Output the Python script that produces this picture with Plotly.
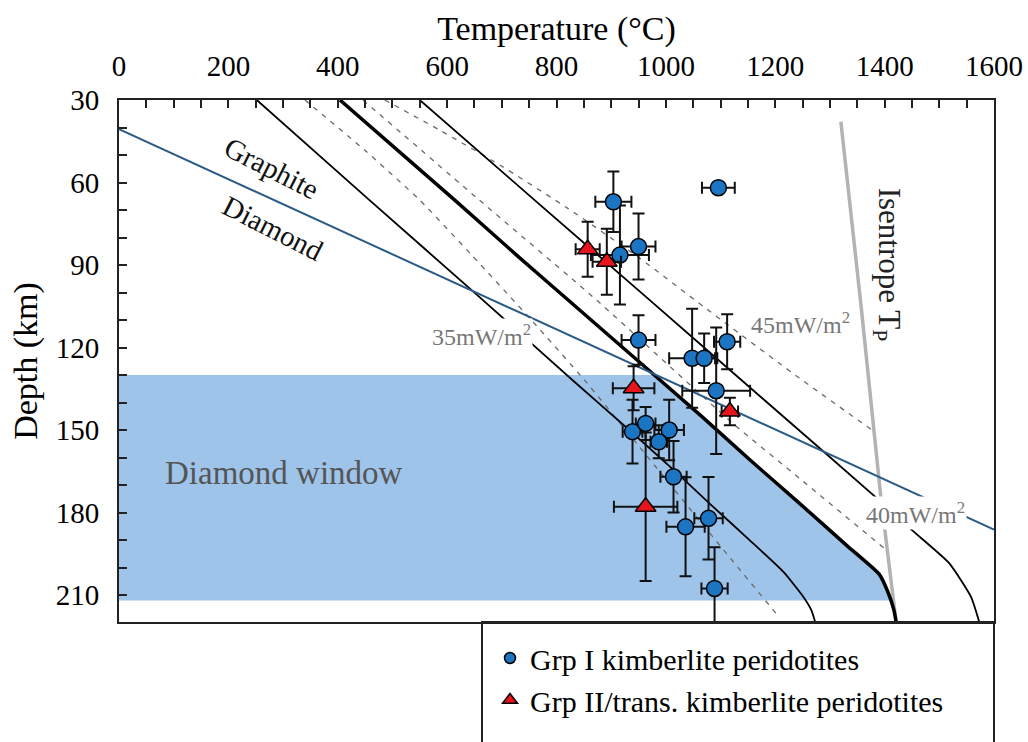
import numpy as np
import plotly.graph_objects as go

# ---------------- data ----------------
# Grp I kimberlite peridotites (circles)
g1_T = [1096, 904, 950, 916, 950, 1048, 1070, 1112, 1092, 939, 963, 1006, 987, 1014, 1036, 1078, 1089]
g1_D = [61.9, 67.0, 83.3, 86.4, 117.3, 123.9, 123.9, 117.9, 135.7, 150.6, 147.6, 150.0, 154.3, 167.0, 185.2, 182.1, 207.6]
g1_Terr = [30, 33, 31, 53, 31, 42, 24, 24, 62, 18, 18, 27, 15, 24, 35, 26, 24]
g1_Derr = [0, 11, 12, 18, 9, 18, 9, 10, 23, 11.6, 6, 11, 6, 13, 18, 15, 15]

# Grp II / transitional kimberlite peridotites (triangles)
g2_T = [857, 892, 1117, 941, 963]
g2_D = [84.3, 88.8, 143.3, 134.8, 177.9]
g2_Terr = [22, 26, 15, 38, 58]
g2_Derr = [10, 12, 5, 8, 27]

# geotherms (temperature degC, depth km)
geoA_T = [252, 458, 665, 829, 933, 1014, 1083, 1153, 1215, 1249, 1266, 1273]
geoA_D = [30, 66.4, 102.7, 131.8, 150, 164.5, 177.3, 190, 201.6, 210, 215.5, 219.8]

geoB_T = [404, 614, 727, 857, 1067, 1154, 1248, 1332, 1390, 1406, 1417, 1421]
geoB_D = [30, 66.4, 86.4, 108.9, 145.3, 160.9, 177.3, 192.2, 202.4, 208.9, 215.5, 219.8]

geoC_T = [550, 760, 970, 1180, 1394, 1450, 1518, 1558, 1573]
geoC_D = [30, 66.4, 102.7, 139.1, 176.2, 186.4, 198.4, 210.7, 219.8]

dash1_T = [340, 449, 550, 645, 754, 851, 952, 1098, 1207]
dash1_D = [30, 48.2, 66.4, 86.4, 110, 131.8, 156.2, 191.8, 218]

dash2_T = [446, 659, 873, 1122, 1244, 1403]
dash2_D = [30, 66.4, 102.7, 147.5, 167.5, 193.6]

dash3_T = [486, 586, 696, 820, 952, 1070, 1244, 1377]
dash3_D = [30, 40.9, 53.6, 69.3, 87.5, 105.3, 131.1, 150]

isen_T = [1320, 1357, 1393, 1421]
isen_D = [37.9, 105, 174.3, 219.8]

gd_T = [0, 1600]          # graphite-diamond boundary
gd_D = [40.6, 186.2]

window_D = [130, 212]     # diamond window depth range

x_ticks = [0, 200, 400, 600, 800, 1000, 1200, 1400, 1600]
y_ticks = [30, 60, 90, 120, 150, 180, 210]

# ---------------- figure ----------------
FONT = "Liberation Serif"
W, H = 1028, 742
XD = [119 / W, 994 / W]
YD = [1 - 622 / H, 1 - 100 / H]

fig = go.Figure()

# diamond window (bounded by thick geotherm and isentrope)
dg = np.linspace(window_D[0], window_D[1], 80)
edge = np.minimum(np.interp(dg, geoB_D, geoB_T), np.interp(dg, isen_D, isen_T))
fig.add_trace(go.Scatter(
    x=np.concatenate([[0], edge, [0]]), y=np.concatenate([[window_D[0]], dg, [window_D[1]]]),
    fill="toself", fillcolor="#9ec4ea", line=dict(width=0), mode="lines",
    hoverinfo="skip", showlegend=False))

for tx, ty in [(dash1_T, dash1_D), (dash2_T, dash2_D), (dash3_T, dash3_D)]:
    fig.add_trace(go.Scatter(x=tx, y=ty, mode="lines", showlegend=False,
                             line=dict(color="#6a6a6a", width=1.3, dash="5px,6px", shape="spline", smoothing=0.5)))

fig.add_trace(go.Scatter(x=geoA_T, y=geoA_D, mode="lines", showlegend=False,
                         line=dict(color="black", width=1.8, shape="spline", smoothing=0.5)))
fig.add_trace(go.Scatter(x=geoC_T, y=geoC_D, mode="lines", showlegend=False,
                         line=dict(color="black", width=1.8, shape="spline", smoothing=0.5)))
fig.add_trace(go.Scatter(x=isen_T, y=isen_D, mode="lines", showlegend=False,
                         line=dict(color="#b3b3b3", width=3.5)))
fig.add_trace(go.Scatter(x=geoB_T, y=geoB_D, mode="lines", showlegend=False,
                         line=dict(color="black", width=3.5, shape="spline", smoothing=0.5)))
fig.add_trace(go.Scatter(x=gd_T, y=gd_D, mode="lines", showlegend=False,
                         line=dict(color="#2b5b86", width=2)))

err = dict(color="#111111", thickness=2, width=6)
fig.add_trace(go.Scatter(
    x=g1_T, y=g1_D, mode="markers", showlegend=False,
    marker=dict(symbol="circle", size=16, color="#1b75c2", line=dict(color="black", width=1.5)),
    error_x=dict(type="data", array=g1_Terr, **err),
    error_y=dict(type="data", array=g1_Derr, **err)))
fig.add_trace(go.Scatter(
    x=g2_T, y=g2_D, mode="markers", showlegend=False,
    marker=dict(symbol="triangle-up", size=18, color="#e8141c", line=dict(color="black", width=1.5)),
    error_x=dict(type="data", array=g2_Terr, **err),
    error_y=dict(type="data", array=g2_Derr, **err)))

# legend entries
fig.add_trace(go.Scatter(x=[None], y=[None], mode="markers", name="Grp I kimberlite peridotites",
                         marker=dict(symbol="circle", size=11, color="#1b75c2", line=dict(color="black", width=1.5))))
fig.add_trace(go.Scatter(x=[None], y=[None], mode="markers", name="Grp II/trans. kimberlite peridotites",
                         marker=dict(symbol="triangle-up", size=13, color="#e8141c", line=dict(color="black", width=1.5))))

ann_lbl = dict(font=dict(family=FONT, size=24, color="#777777"), bgcolor="white", borderpad=1, showarrow=False)
annotations = [
    dict(x=279, y=54.7, text="Graphite", textangle=27, showarrow=False, font=dict(family=FONT, size=29, color="#111")),
    dict(x=281, y=76.5, text="Diamond", textangle=27, showarrow=False, font=dict(family=FONT, size=29, color="#111")),
    dict(x=663, y=115.5, text="35mW/m<sup>2</sup>", **ann_lbl),
    dict(x=1246, y=111, text="45mW/m<sup>2</sup>", **ann_lbl),
    dict(x=1456, y=180.2, text="40mW/m<sup>2</sup>", **ann_lbl),
    dict(x=1405, y=90, text="Isentrope T<sub>P</sub>", textangle=90, showarrow=False,
         font=dict(family=FONT, size=31, color="#222")),
    dict(x=301, y=165.6, text="Diamond window", showarrow=False, font=dict(family=FONT, size=33, color="#555")),
]

fig.update_layout(
    width=W, height=H, margin=dict(l=0, r=0, t=0, b=0, autoexpand=False),
    paper_bgcolor="white", plot_bgcolor="white",
    font=dict(family=FONT, color="black"),
    annotations=annotations,
    shapes=[dict(type="rect", xref="paper", yref="paper", x0=482 / W, x1=994 / W, y0=-0.02, y1=YD[0],
                 line=dict(color="#222", width=2), layer="above")],
    legend=dict(x=490 / W, y=1 - 632 / H, xanchor="left", yanchor="top",
                font=dict(family=FONT, size=30, color="black"), bgcolor="rgba(0,0,0,0)", borderwidth=0),
    xaxis=dict(domain=XD, range=[0, 1600], side="top", tickmode="array", tickvals=x_ticks,
               ticks="inside", ticklen=8, tickwidth=2, tickcolor="#222", automargin=False,
               minor=dict(tick0=0, dtick=50, ticks="inside", ticklen=8, tickwidth=2, tickcolor="#222"),
               showline=True, linewidth=2, linecolor="#222", mirror=True, showgrid=False, zeroline=False,
               tickfont=dict(family=FONT, size=29), ticklabelstandoff=10,
               title=dict(text="Temperature (°C)", font=dict(family=FONT, size=34), standoff=0)),
    yaxis=dict(domain=YD, range=[219.8, 30], tickmode="array", tickvals=y_ticks,
               ticks="inside", ticklen=8, tickwidth=2, tickcolor="#222", automargin=False,
               minor=dict(tick0=0, dtick=10, ticks="inside", ticklen=8, tickwidth=2, tickcolor="#222"),
               showline=True, linewidth=2, linecolor="#222", mirror=True, showgrid=False, zeroline=False,
               tickfont=dict(family=FONT, size=29), ticklabelstandoff=12,
               title=dict(text="Depth (km)", font=dict(family=FONT, size=34), standoff=8)),
)

fig.write_html("out.html")
